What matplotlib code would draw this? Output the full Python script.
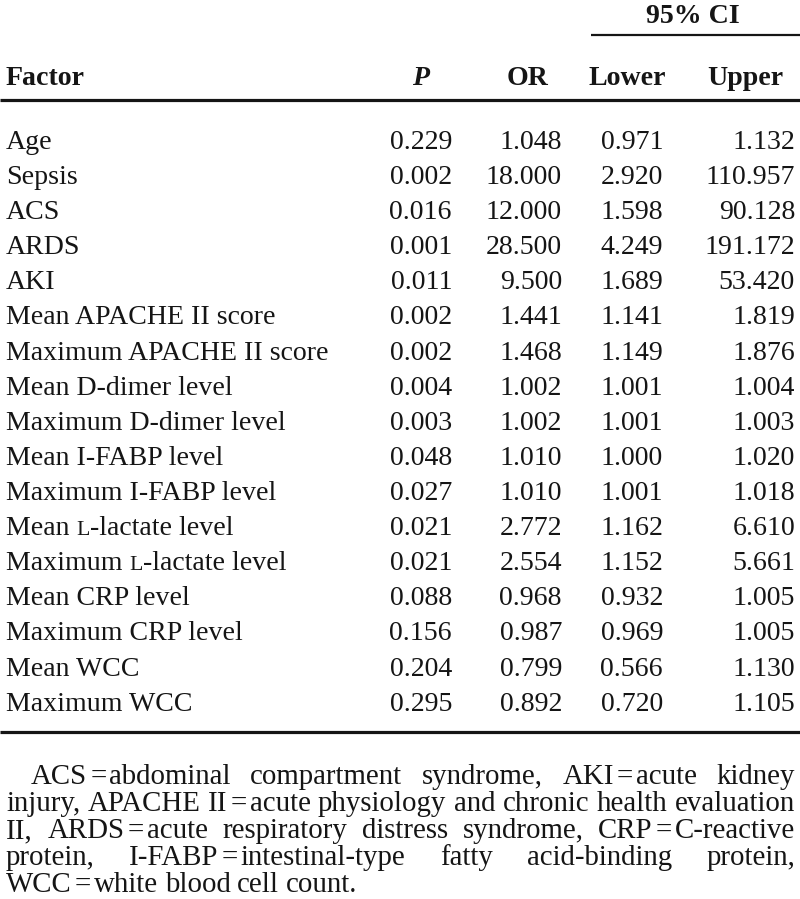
import matplotlib
matplotlib.use("Agg")
import matplotlib.pyplot as plt

# ---------------- data ----------------
factors = [
    "Age", "Sepsis", "ACS", "ARDS", "AKI",
    "Mean APACHE II score", "Maximum APACHE II score",
    "Mean D-dimer level", "Maximum D-dimer level",
    "Mean I-FABP level", "Maximum I-FABP level",
    "Mean \u029f-lactate level", "Maximum \u029f-lactate level",
    "Mean CRP level", "Maximum CRP level",
    "Mean WCC", "Maximum WCC",
]
p_values = [0.229, 0.002, 0.016, 0.001, 0.011, 0.002, 0.002, 0.004, 0.003,
            0.048, 0.027, 0.021, 0.021, 0.088, 0.156, 0.204, 0.295]
odds_ratios = [1.048, 18.000, 12.000, 28.500, 9.500, 1.441, 1.468, 1.002, 1.002,
               1.010, 1.010, 2.772, 2.554, 0.968, 0.987, 0.799, 0.892]
ci_lower = [0.971, 2.920, 1.598, 4.249, 1.689, 1.141, 1.149, 1.001, 1.001,
            1.000, 1.001, 1.162, 1.152, 0.932, 0.969, 0.566, 0.720]
ci_upper = [1.132, 110.957, 90.128, 191.172, 53.420, 1.819, 1.876, 1.004, 1.003,
            1.020, 1.018, 6.610, 5.661, 1.005, 1.005, 1.130, 1.105]
column_headers = ["Factor", "P", "OR", "Lower", "Upper"]
group_header = "95% CI"
footnote_lines = [
    "ACS = abdominal compartment syndrome, AKI = acute kidney",
    "injury, APACHE II = acute physiology and chronic health evaluation",
    "II, ARDS = acute respiratory distress syndrome, CRP = C-reactive",
    "protein, I-FABP = intestinal-type fatty acid-binding protein,",
    "WCC = white blood cell count.",
]

# ---------------- style ----------------
W, H = 800, 899
FONT = ["Liberation Serif", "DejaVu Serif"]
FS = 20.1
FS_NOTE = 20.8
INK = "#151515"

fig = plt.figure(figsize=(W / 100, H / 100), dpi=100)
ax = fig.add_axes([0, 0, 1, 1])
ax.set_xlim(0, W)
ax.set_ylim(H, 0)
ax.axis("off")
renderer = fig.canvas.get_renderer()


def txt(x, y, s, ha="left", size=FS, **kw):
    return ax.text(x, y, s, ha=ha, va="baseline", fontsize=size,
                   family=FONT, color=INK, **kw)


def width(t):
    return t.get_window_extent(renderer).width


def label_with_smallcaps(x, y, s):
    # draw a label, rendering the small-capital L as a reduced "L"
    parts = s.split("\u029f")
    cx = x
    for k, part in enumerate(parts):
        if k > 0:
            t = txt(cx, y, "L", size=FS * 0.78)
            cx += width(t)
        if part:
            t = txt(cx, y, part)
            cx += width(t)


# column right edges / header centres
col_right = {"P": 452, "OR": 562, "Lower": 663, "Upper": 795}
col_center_hdr = {"P": 421, "OR": 527, "Lower": 627, "Upper": 745}

# header
txt(693, 23, group_header, ha="center", weight="bold")
ax.plot([591, 800], [35, 35], color=INK, lw=1.6, solid_capstyle="butt")
hdr_base = 85
txt(6, hdr_base, column_headers[0], weight="bold")
txt(col_center_hdr["P"], hdr_base, column_headers[1], ha="center",
    weight="bold", style="italic")
for name in column_headers[2:]:
    txt(col_center_hdr[name], hdr_base, name, ha="center", weight="bold")
ax.plot([0, 800], [100, 100], color=INK, lw=2.3, solid_capstyle="butt")

# rows
first_base = 149
step = 35.1
for i, f in enumerate(factors):
    yb = first_base + i * step
    label_with_smallcaps(6, yb, f)
    txt(col_right["P"], yb, f"{p_values[i]:.3f}", ha="right")
    txt(col_right["OR"], yb, f"{odds_ratios[i]:.3f}", ha="right")
    txt(col_right["Lower"], yb, f"{ci_lower[i]:.3f}", ha="right")
    txt(col_right["Upper"], yb, f"{ci_upper[i]:.3f}", ha="right")

bottom_y = first_base + (len(factors) - 1) * step + 21
ax.plot([0, 800], [bottom_y, bottom_y], color=INK, lw=2.3, solid_capstyle="butt")

# footnote (justified)
fn_base = 784
fn_step = 27.0
left, right = 6, 795
eq_gap = 3.0
for li, line in enumerate(footnote_lines):
    yb = fn_base + li * fn_step
    words = line.split(" ")
    groups = []
    i = 0
    while i < len(words):
        if words[i] == "=" and groups:
            groups[-1] += ["=", words[i + 1]]
            i += 2
        else:
            groups.append([words[i]])
            i += 1
    gtexts = []
    gwidths = []
    for g in groups:
        ts = [txt(0, yb, w, size=FS_NOTE) for w in g]
        ws = [width(t) for t in ts]
        gtexts.append((ts, ws))
        gwidths.append(sum(ws) + eq_gap * (len(ws) - 1))
    x0 = left + (25 if li == 0 else 0)
    last = li == len(footnote_lines) - 1
    if last or len(groups) == 1:
        gap = 6.5
    else:
        gap = (right - x0 - sum(gwidths)) / (len(groups) - 1)
    cx = x0
    for (ts, ws), gw in zip(gtexts, gwidths):
        px = cx
        for t, w in zip(ts, ws):
            t.set_x(px)
            px += w + eq_gap
        cx += gw + gap

fig.savefig("out.png", dpi=100, facecolor="white")
